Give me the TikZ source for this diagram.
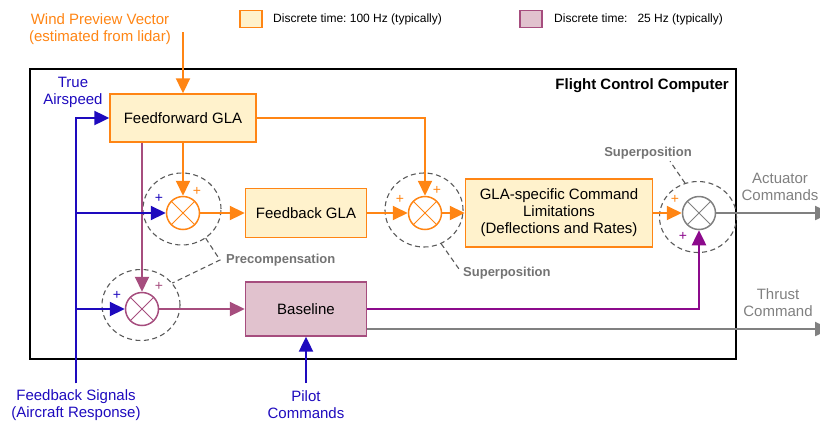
\documentclass[tikz,border=0pt]{standalone}
\usepackage{fontspec}
\setmainfont{Liberation Sans}
\usetikzlibrary{arrows.meta,shapes.geometric}
\definecolor{glaor}{RGB}{255,133,20}
\definecolor{glafill}{RGB}{255,242,204}
\definecolor{bsmauve}{RGB}{166,77,126}
\definecolor{bsfill}{RGB}{225,194,206}
\definecolor{bspurple}{RGB}{140,10,140}
\definecolor{sigblue}{RGB}{30,10,190}
\definecolor{outgray}{RGB}{128,128,128}
\definecolor{ringgray}{RGB}{90,90,90}
\frenchspacing
\tikzset{
  txt/.style={inner sep=0pt, font=\fontsize{15}{17}\selectfont, align=center},
  small/.style={inner sep=0pt, font=\fontsize{12}{14}\selectfont},
  note/.style={inner sep=0pt, text=ringgray!85, font=\fontsize{13}{15}\selectfont\bfseries},
  plus/.style={inner sep=0pt, font=\fontsize{14}{14}\selectfont, text=#1},
  glabox/.style={draw=glaor, fill=glafill, line width=1.4pt, txt, inner sep=3pt},
  basebox/.style={draw=bsmauve, fill=bsfill, line width=1.4pt, txt, inner sep=3pt},
  sumnode/.style={circle, draw=#1, line width=1.5pt, minimum size=33pt, inner sep=0pt,
    path picture={\draw[#1, line width=1pt]
      (path picture bounding box.north west) -- (path picture bounding box.south east)
      (path picture bounding box.north east) -- (path picture bounding box.south west);}},
  ring/.style={ellipse, draw=ringgray, dashed, dash pattern=on 5pt off 3.5pt, line width=1.1pt, inner sep=0pt},
  ringline/.style={draw=ringgray, dash pattern=on 5pt off 3.5pt, line width=1.1pt},
  orl/.style={draw=glaor, line width=2pt},
  mvl/.style={draw=bsmauve, line width=2pt},
  dpl/.style={draw=bspurple, line width=2.5pt},
  bll/.style={draw=sigblue, line width=2.2pt},
  gyl/.style={draw=outgray, line width=2.5pt},
}
\begin{document}
\begin{tikzpicture}[x=1pt, y=-1pt, >={Triangle[length=15pt,width=14pt]}]
  \useasboundingbox (0,0) rectangle (820,421);

  % legend
  \node[glabox, minimum width=22pt, minimum height=17pt, inner sep=0pt] (leg100) at (251,19) {};
  \node[small, anchor=west] (leg100t) at (273,19) {Discrete time: 100 Hz (typically)};
  \node[basebox, minimum width=22pt, minimum height=17pt, inner sep=0pt] (leg25) at (531,19) {};
  \node[small, anchor=west] (leg25t) at (554,19) {Discrete time:\ \ \ 25 Hz (typically)};

  % computer frame
  \node[draw, line width=2pt, minimum width=706pt, minimum height=290pt, inner sep=0pt] (fcc) at (383,214) {};
  \node[txt, font=\fontsize{15}{17}\selectfont\bfseries, anchor=east] (fcct) at (729,86) {Flight Control Computer};

  % blocks
  \node[glabox, minimum width=146pt, minimum height=48pt] (ffw) at (183,118) {Feedforward GLA};
  \node[glabox, minimum width=121pt, minimum height=49pt] (fbk) at (306,213) {Feedback GLA};
  \node[glabox, minimum width=187pt, minimum height=68pt] (lim) at (559,213)
    {GLA-specific Command\\Limitations\\(Deflections and Rates)};
  \node[basebox, minimum width=121pt, minimum height=54pt] (base) at (306,309) {Baseline};

  % summation points
  \node[ring, minimum width=78pt, minimum height=72pt] (r1) at (182,209) {};
  \node[ring, minimum width=78pt, minimum height=71pt] (r2) at (141,305) {};
  \node[ring, minimum width=78pt, minimum height=74pt] (r3) at (424,210) {};
  \node[ring, minimum width=77pt, minimum height=71pt] (r4) at (698,217) {};
  \node[sumnode=glaor] (s1) at (183,213) {};
  \node[sumnode=bsmauve] (s2) at (142,309) {};
  \node[sumnode=glaor] (s3) at (425,213) {};
  \node[sumnode=outgray] (s4) at (699,213) {};

  % signs
  \node[plus=glaor] (p1a) at (197,191) {+};
  \node[plus=sigblue] (p1b) at (159,198) {+};
  \node[plus=bsmauve] (p2a) at (159,286) {+};
  \node[plus=sigblue] (p2b) at (117,295) {+};
  \node[plus=glaor] (p3a) at (400,199) {+};
  \node[plus=glaor] (p3b) at (437,190) {+};
  \node[plus=glaor] (p4a) at (675,199) {+};
  \node[plus=bspurple] (p4b) at (683,236) {+};

  % ring notes
  \node[note, anchor=west] (prec) at (226,260) {Precompensation};
  \node[note, anchor=west] (sup1) at (463,273) {Superposition};
  \node[note] (sup2) at (648,153) {Superposition};
  \draw[ringline] (r1.-51) -- ([xshift=-6pt]prec.west) -- (r2.35);
  \draw[ringline] (r3.-63) -- ([xshift=-4pt,yshift=4pt]sup1.west);
  \draw[ringline] (r4.111) -- ([xshift=22pt,yshift=-2pt]sup2.south);

  % outside signals
  \node[txt, text=glaor] (wind) at (100,29.5) {Wind Preview Vector\\(estimated from lidar)};
  \node[txt, text=sigblue] (tas) at (73,92.5) {True\\Airspeed};
  \node[txt, text=sigblue] (fbsig) at (76,405) {Feedback Signals\\(Aircraft Response)};
  \node[txt, text=sigblue] (pilot) at (306,405) {Pilot\\Commands};
  \node[txt, text=outgray] (act) at (780,186.5) {Actuator\\Commands};
  \node[txt, text=outgray] (thr) at (778,303) {Thrust\\Command};
  \coordinate (windin) at (183,32);
  \coordinate (fbin) at (76,383);
  \coordinate (pilotin) at (306,383);
  \coordinate (actout) at (830,213);
  \coordinate (throut) at (830,329);

  % connections
  \draw[orl,->,glaor] (windin) -- (ffw);
  \draw[orl,->,glaor] (ffw) -- (s1);
  \draw[mvl,->,bsmauve] (ffw.south -| s2) -- (s2);
  \draw[orl,->,glaor] (ffw.east) -| (s3);
  \draw[orl,->,glaor] (s1) -- (fbk);
  \draw[orl,->,glaor] (fbk) -- (s3);
  \draw[orl,->,glaor] (s3) -- (lim);
  \draw[orl,->,glaor] (lim) -- (s4);
  \draw[mvl,->,bsmauve] (s2) -- (base);
  \draw[dpl,->,bspurple] (base.east) -| (s4);
  \draw[gyl,->,outgray] (base.east |- throut) -- (throut);
  \draw[gyl,->,outgray] (s4) -- (actout);
  \draw[bll,->,sigblue] (fbin) |- (ffw);
  \draw[bll,->,sigblue] (fbin) |- (s1);
  \draw[bll,->,sigblue] (fbin) |- (s2);
  \draw[bll,->,sigblue] (pilotin) -- (base);
\end{tikzpicture}
\end{document}
